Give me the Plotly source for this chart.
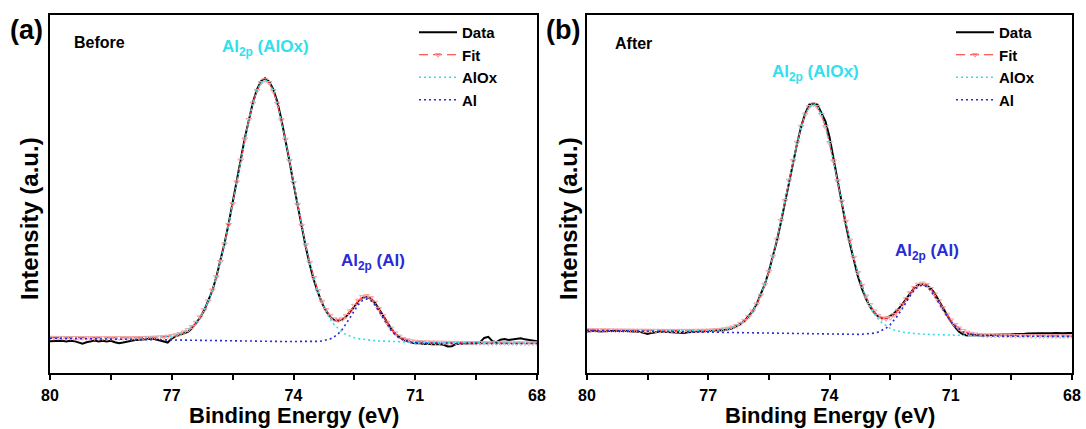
import plotly.graph_objects as go

# Binding energy grid (eV), high to low
energy = [
    80.0, 79.9, 79.8, 79.7, 79.6, 79.5, 79.4, 79.3, 79.2, 79.1,
    79.0, 78.9, 78.8, 78.7, 78.6, 78.5, 78.4, 78.3, 78.2, 78.1,
    78.0, 77.9, 77.8, 77.7, 77.6, 77.5, 77.4, 77.3, 77.2, 77.1,
    77.0, 76.9, 76.8, 76.7, 76.6, 76.5, 76.4, 76.3, 76.2, 76.1,
    76.0, 75.9, 75.8, 75.7, 75.6, 75.5, 75.4, 75.3, 75.2, 75.1,
    75.0, 74.9, 74.8, 74.7, 74.6, 74.5, 74.4, 74.3, 74.2, 74.1,
    74.0, 73.9, 73.8, 73.7, 73.6, 73.5, 73.4, 73.3, 73.2, 73.1,
    73.0, 72.9, 72.8, 72.7, 72.6, 72.5, 72.4, 72.3, 72.2, 72.1,
    72.0, 71.9, 71.8, 71.7, 71.6, 71.5, 71.4, 71.3, 71.2, 71.1,
    71.0, 70.9, 70.8, 70.7, 70.6, 70.5, 70.4, 70.3, 70.2, 70.1,
    70.0, 69.9, 69.8, 69.7, 69.6, 69.5, 69.4, 69.3, 69.2, 69.1,
    69.0, 68.9, 68.8, 68.7, 68.6, 68.5, 68.4, 68.3, 68.2, 68.1, 68.0,
]

# ---- (a) Before ----
before_data = [
    8.9, 9.0, 9.1, 9.0, 8.8, 9.0, 8.9, 8.5, 8.2, 8.6,
    8.9, 9.1, 8.8, 9.0, 8.8, 9.0, 8.6, 8.3, 8.5, 8.8,
    9.1, 9.2, 9.3, 9.4, 9.5, 9.6, 9.4, 9.1, 8.8, 8.5,
    9.6, 10.3, 10.7, 11.0, 11.5, 12.5, 13.9, 15.5, 17.5, 20.0,
    23.0, 26.9, 31.2, 36.2, 41.6, 47.3, 53.2, 59.6, 65.6, 70.9,
    75.6, 79.2, 81.5, 82.3, 81.4, 79.3, 75.8, 70.9, 65.4, 59.2,
    52.9, 46.7, 40.9, 35.3, 30.3, 26.0, 22.6, 19.6, 17.3, 15.7,
    14.8, 14.6, 14.9, 15.8, 17.1, 18.6, 20.0, 21.0, 21.3, 20.8,
    19.7, 18.0, 16.1, 14.2, 12.5, 11.1, 10.1, 9.4, 8.9, 8.5,
    8.3, 8.4, 8.1, 8.2, 8.0, 8.1, 8.0, 7.9, 7.4, 7.5,
    8.1, 8.2, 8.3, 8.2, 8.4, 8.3, 8.6, 9.8, 10.1, 8.9,
    8.6, 9.3, 9.5, 9.2, 9.3, 9.6, 9.7, 9.4, 9.3, 9.0, 8.9,
]
before_fit = [
    9.89, 9.88, 9.87, 9.86, 9.85, 9.84, 9.83, 9.82, 9.82, 9.81,
    9.80, 9.80, 9.80, 9.79, 9.79, 9.79, 9.79, 9.80, 9.80, 9.80,
    9.81, 9.82, 9.84, 9.86, 9.88, 9.90, 9.95, 10.01, 10.09, 10.21,
    10.37, 10.60, 10.94, 11.41, 12.05, 12.93, 14.10, 15.64, 17.62, 20.10,
    23.15, 26.82, 31.10, 36.00, 41.42, 47.25, 53.33, 59.46, 65.36, 70.75,
    75.35, 78.87, 81.08, 81.86, 81.08, 78.84, 75.29, 70.67, 65.24, 59.32,
    53.16, 47.05, 41.20, 35.76, 30.85, 26.58, 22.94, 19.97, 17.68, 16.04,
    15.05, 14.75, 15.08, 15.98, 17.32, 18.85, 20.27, 21.27, 21.55, 21.00,
    19.72, 17.95, 15.99, 14.10, 12.47, 11.17, 10.23, 9.60, 9.19, 8.94,
    8.78, 8.70, 8.64, 8.61, 8.58, 8.55, 8.53, 8.52, 8.50, 8.49,
    8.47, 8.46, 8.46, 8.44, 8.43, 8.43, 8.42, 8.41, 8.40, 8.39,
    8.39, 8.38, 8.38, 8.36, 8.36, 8.35, 8.35, 8.34, 8.34, 8.34, 8.33,
]
before_alox = [
    9.88, 9.87, 9.86, 9.85, 9.84, 9.83, 9.82, 9.81, 9.81, 9.80,
    9.79, 9.79, 9.79, 9.78, 9.78, 9.78, 9.78, 9.79, 9.79, 9.79,
    9.80, 9.81, 9.83, 9.85, 9.87, 9.89, 9.94, 10.00, 10.08, 10.20,
    10.36, 10.59, 10.93, 11.40, 12.04, 12.92, 14.09, 15.63, 17.61, 20.09,
    23.14, 26.81, 31.09, 35.98, 41.41, 47.24, 53.32, 59.45, 65.35, 70.74,
    75.34, 78.86, 81.07, 81.82, 81.04, 78.79, 75.24, 70.61, 65.18, 59.25,
    53.09, 46.97, 41.11, 35.65, 30.72, 26.41, 22.71, 19.62, 17.11, 15.10,
    13.52, 12.32, 11.41, 10.73, 10.23, 9.86, 9.59, 9.40, 9.25, 9.13,
    9.04, 8.96, 8.90, 8.85, 8.80, 8.74, 8.70, 8.66, 8.62, 8.59,
    8.55, 8.53, 8.51, 8.50, 8.49, 8.47, 8.46, 8.45, 8.44, 8.43,
    8.42, 8.41, 8.41, 8.40, 8.39, 8.39, 8.38, 8.38, 8.37, 8.36,
    8.36, 8.35, 8.35, 8.34, 8.34, 8.33, 8.33, 8.32, 8.32, 8.32, 8.31,
]
before_al = [
    9.71, 9.69, 9.68, 9.66, 9.64, 9.63, 9.61, 9.59, 9.58, 9.56,
    9.54, 9.52, 9.51, 9.49, 9.47, 9.46, 9.44, 9.42, 9.41, 9.39,
    9.37, 9.36, 9.34, 9.32, 9.30, 9.29, 9.27, 9.25, 9.24, 9.22,
    9.20, 9.19, 9.17, 9.15, 9.14, 9.12, 9.10, 9.09, 9.07, 9.05,
    9.05, 9.04, 9.02, 9.00, 8.99, 8.98, 8.96, 8.95, 8.93, 8.91,
    8.90, 8.88, 8.87, 8.86, 8.84, 8.83, 8.82, 8.81, 8.79, 8.79,
    8.77, 8.76, 8.76, 8.76, 8.76, 8.79, 8.83, 8.93, 9.14, 9.49,
    10.06, 10.95, 12.17, 13.73, 15.56, 17.44, 19.11, 20.29, 20.70, 20.25,
    19.05, 17.34, 15.42, 13.57, 11.97, 10.71, 9.80, 9.19, 8.80, 8.57,
    8.43, 8.37, 8.33, 8.31, 8.29, 8.28, 8.27, 8.27, 8.26, 8.26,
    8.25, 8.25, 8.25, 8.24, 8.24, 8.24, 8.24, 8.23, 8.23, 8.23,
    8.23, 8.23, 8.23, 8.22, 8.22, 8.22, 8.22, 8.22, 8.22, 8.22, 8.22,
]

# ---- (b) After ----
after_data = [
    11.6, 11.7, 11.8, 11.6, 11.7, 11.8, 11.7, 11.8, 11.7, 11.8,
    11.7, 11.6, 11.6, 11.5, 11.2, 10.9, 11.2, 11.5, 11.6, 11.5,
    11.4, 11.3, 11.2, 11.1, 11.2, 11.4, 11.5, 11.6, 11.6, 11.7,
    11.8, 11.8, 11.9, 11.9, 12.0, 12.2, 12.5, 13.0, 13.7, 14.6,
    15.8, 17.3, 19.3, 21.8, 24.8, 28.4, 32.5, 37.0, 42.2, 47.8,
    53.5, 59.1, 64.2, 68.9, 72.5, 75.0, 75.3, 75.0, 72.8, 70.3,
    65.9, 59.6, 53.6, 47.6, 41.7, 36.3, 31.4, 27.1, 23.6, 20.8,
    18.6, 16.9, 15.8, 15.3, 15.4, 15.9, 16.7, 17.8, 19.2, 20.8,
    22.4, 23.8, 24.6, 24.8, 24.5, 23.7, 22.3, 20.3, 18.2, 16.2,
    14.4, 12.9, 11.6, 10.8, 10.5, 10.6, 10.5, 10.6, 10.5, 10.6,
    10.6, 10.7, 10.6, 10.7, 10.8, 10.8, 10.9, 10.8, 10.9, 11.0,
    11.1, 11.0, 11.1, 11.1, 11.0, 11.1, 11.2, 11.1, 11.1, 11.2, 11.2,
]
after_fit = [
    12.03, 12.02, 12.00, 11.99, 11.98, 11.97, 11.96, 11.94, 11.93, 11.92,
    11.90, 11.89, 11.88, 11.87, 11.87, 11.86, 11.85, 11.84, 11.84, 11.83,
    11.82, 11.82, 11.82, 11.83, 11.83, 11.83, 11.84, 11.85, 11.86, 11.88,
    11.91, 11.96, 12.03, 12.13, 12.27, 12.48, 12.78, 13.20, 13.81, 14.64,
    15.77, 17.28, 19.22, 21.67, 24.70, 28.32, 32.54, 37.31, 42.55, 48.11,
    53.78, 59.30, 64.41, 68.83, 72.22, 74.37, 75.09, 74.34, 72.16, 68.74,
    64.32, 59.18, 53.62, 47.93, 42.34, 37.08, 32.28, 28.05, 24.44, 21.44,
    19.06, 17.27, 16.03, 15.33, 15.15, 15.45, 16.25, 17.46, 18.99, 20.70,
    22.37, 23.81, 24.75, 25.05, 24.62, 23.54, 21.96, 20.10, 18.17, 16.35,
    14.77, 13.49, 12.52, 11.82, 11.34, 11.02, 10.82, 10.70, 10.62, 10.57,
    10.53, 10.51, 10.48, 10.47, 10.46, 10.44, 10.43, 10.42, 10.41, 10.40,
    10.38, 10.38, 10.37, 10.36, 10.36, 10.35, 10.34, 10.34, 10.33, 10.33, 10.32,
]
after_alox = [
    12.03, 12.01, 11.99, 11.98, 11.97, 11.96, 11.95, 11.93, 11.92, 11.91,
    11.89, 11.88, 11.87, 11.86, 11.86, 11.85, 11.84, 11.83, 11.83, 11.82,
    11.81, 11.81, 11.81, 11.82, 11.82, 11.82, 11.83, 11.84, 11.85, 11.87,
    11.90, 11.95, 12.02, 12.12, 12.26, 12.47, 12.77, 13.19, 13.80, 14.63,
    15.76, 17.27, 19.21, 21.66, 24.69, 28.31, 32.53, 37.30, 42.54, 48.10,
    53.77, 59.29, 64.40, 68.79, 72.18, 74.32, 75.04, 74.28, 72.10, 68.68,
    64.25, 59.10, 53.54, 47.84, 42.24, 36.96, 32.15, 27.89, 24.24, 21.17,
    18.68, 16.70, 15.16, 13.99, 13.12, 12.47, 12.01, 11.68, 11.43, 11.25,
    11.11, 11.01, 10.92, 10.85, 10.79, 10.74, 10.70, 10.65, 10.61, 10.57,
    10.53, 10.51, 10.49, 10.48, 10.47, 10.45, 10.44, 10.43, 10.42, 10.41,
    10.40, 10.39, 10.38, 10.38, 10.37, 10.37, 10.36, 10.36, 10.35, 10.34,
    10.33, 10.33, 10.33, 10.32, 10.32, 10.31, 10.31, 10.31, 10.30, 10.30, 10.30,
]
after_al = [
    11.91, 11.89, 11.87, 11.85, 11.83, 11.81, 11.80, 11.78, 11.76, 11.74,
    11.72, 11.70, 11.68, 11.66, 11.65, 11.63, 11.61, 11.59, 11.57, 11.55,
    11.53, 11.51, 11.50, 11.48, 11.46, 11.44, 11.42, 11.40, 11.38, 11.37,
    11.35, 11.33, 11.31, 11.29, 11.27, 11.26, 11.24, 11.22, 11.20, 11.18,
    11.17, 11.15, 11.13, 11.11, 11.10, 11.08, 11.06, 11.04, 11.03, 11.01,
    10.99, 10.97, 10.95, 10.94, 10.93, 10.91, 10.89, 10.88, 10.86, 10.85,
    10.84, 10.83, 10.81, 10.80, 10.79, 10.79, 10.78, 10.79, 10.82, 10.87,
    10.96, 11.13, 11.41, 11.86, 12.53, 13.46, 14.70, 16.23, 17.99, 19.86,
    21.65, 23.17, 24.18, 24.53, 24.14, 23.09, 21.54, 19.71, 17.80, 16.00,
    14.44, 13.18, 12.23, 11.54, 11.07, 10.77, 10.58, 10.47, 10.40, 10.36,
    10.33, 10.32, 10.30, 10.29, 10.29, 10.28, 10.27, 10.27, 10.26, 10.26,
    10.25, 10.25, 10.25, 10.24, 10.24, 10.24, 10.23, 10.23, 10.23, 10.23, 10.22,
]

tick_vals = [80, 78.5, 77, 75.5, 74, 72.5, 71, 69.5, 68]
tick_text = ["80", "", "77", "", "74", "", "71", "", "68"]

FONT = "Liberation Sans, Arial, Helvetica, sans-serif"
W, H = 1086, 429
CYAN = "#2fe0ee"
BLUE = "#2a2ad8"


def px(x):
    return x / W


def py(y):
    return 1 - y / H


fig = go.Figure()

panels = [
    ("x", "y", "legend", before_data, before_fit, before_alox, before_al),
    ("x2", "y2", "legend2", after_data, after_fit, after_alox, after_al),
]
for xa, ya, lg, d, f, ox, al in panels:
    fig.add_trace(go.Scatter(
        x=energy, y=d, mode="lines", name="Data", xaxis=xa, yaxis=ya, legend=lg,
        line=dict(color="black", width=2)))
    fig.add_trace(go.Scatter(
        x=energy, y=f, mode="lines+markers", name="Fit", xaxis=xa, yaxis=ya, legend=lg,
        line=dict(color="#ff2a2a", width=1.2, dash="9px,5px"),
        marker=dict(symbol="triangle-down-open", size=5, color="#f4a0a0",
                    line=dict(width=1, color="#f4a0a0"))))
    fig.add_trace(go.Scatter(
        x=energy, y=ox, mode="lines", name="AlOx", xaxis=xa, yaxis=ya, legend=lg,
        line=dict(color=CYAN, width=1.6, dash="2px,3px")))
    fig.add_trace(go.Scatter(
        x=energy, y=al, mode="lines", name="Al", xaxis=xa, yaxis=ya, legend=lg,
        line=dict(color=BLUE, width=1.6, dash="2px,3px")))

x_common = dict(
    range=[80, 68], tickvals=tick_vals, ticktext=tick_text,
    ticks="outside", ticklen=5, tickwidth=1.5, tickcolor="black",
    showline=True, linewidth=1.6, linecolor="black", mirror=True,
    showgrid=False, zeroline=False, ticklabelstandoff=2, automargin=False,
    tickfont=dict(family=FONT, size=16, color="black", weight="bold"),
)
y_common = dict(
    range=[0, 100], showticklabels=False, ticks="", automargin=False,
    showline=True, linewidth=1.6, linecolor="black", mirror=True,
    showgrid=False, zeroline=False,
)
y_dom = [py(373), py(15)]

legend_common = dict(
    xanchor="left", yanchor="top", bgcolor="rgba(0,0,0,0)",
    font=dict(family=FONT, size=15, color="black", weight="bold"),
    itemwidth=38, tracegroupgap=0, borderwidth=0,
)


def ann(text, x, y, size, color="black", angle=0, xanchor="center"):
    return dict(text=text, x=px(x), y=py(y), xref="paper", yref="paper",
                xanchor=xanchor, yanchor="middle", showarrow=False, textangle=angle,
                font=dict(family=FONT, size=size, color=color, weight="bold"))


annotations = [
    ann("(a)", 26, 30, 27),
    ann("(b)", 563, 30, 27),
    ann("Before", 72, 42, 16, xanchor="left"),
    ann("After", 613, 43, 16, xanchor="left"),
    ann("Al<sub>2p</sub> (AlOx)", 265, 48, 17, CYAN),
    ann("Al<sub>2p</sub> (AlOx)", 815, 73, 17, CYAN),
    ann("Al<sub>2p</sub> (Al)", 373, 262, 17, BLUE),
    ann("Al<sub>2p</sub> (Al)", 927, 252, 17, BLUE),
    ann("Binding Energy (eV)", 294, 415, 22),
    ann("Binding Energy (eV)", 830, 415, 22),
    ann("Intensity (a.u.)", 29, 219, 24, angle=-90),
    ann("Intensity (a.u.)", 568, 219, 24, angle=-90),
]

fig.update_layout(
    width=W, height=H,
    margin=dict(l=0, r=0, t=0, b=0),
    paper_bgcolor="white", plot_bgcolor="white",
    xaxis=dict(domain=[px(50), px(537)], anchor="y", **x_common),
    yaxis=dict(domain=y_dom, anchor="x", **y_common),
    xaxis2=dict(domain=[px(587), px(1072)], anchor="y2", **x_common),
    yaxis2=dict(domain=y_dom, anchor="x2", **y_common),
    legend=dict(x=px(414), y=py(16), **legend_common),
    legend2=dict(x=px(951), y=py(16), **legend_common),
    annotations=annotations,
)

fig.write_html(
    "out.html",
    post_script=(
        "document.body.style.margin='0';"
        "document.documentElement.style.overflow='hidden';"
        "document.body.style.overflow='hidden';"
    ),
)
